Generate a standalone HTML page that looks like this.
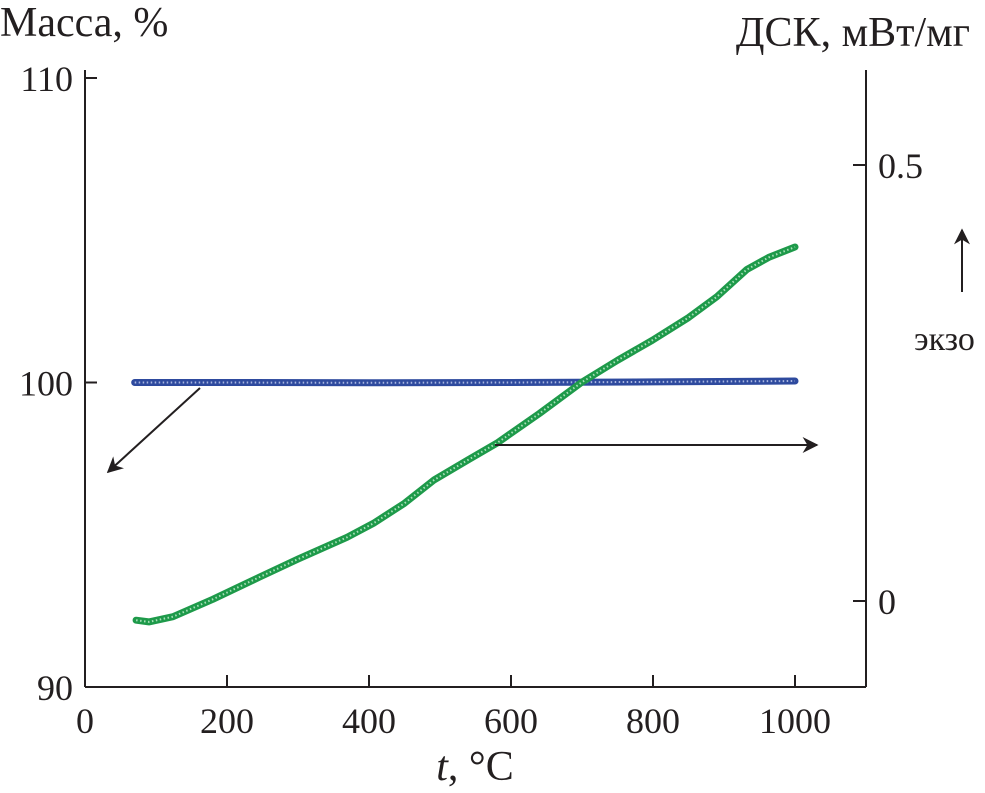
<!DOCTYPE html>
<html><head><meta charset="utf-8"><style>
html,body{margin:0;padding:0;background:#fff;}
svg{display:block;font-family:"Liberation Serif",serif;}
</style></head><body>
<svg id="chart" width="985" height="793" viewBox="0 0 985 793">
<defs>
<marker id="ah" viewBox="0 0 10 10" refX="9" refY="5" markerWidth="8" markerHeight="8" orient="auto-start-reverse"><path d="M0,0 L10,5 L0,10 L3,5 z" fill="#231f20"/></marker>
</defs>
<g id="axes" stroke="#231f20" stroke-width="2" fill="none"></g>
<g id="labels" fill="#231f20" font-size="36"></g>
<g id="series"></g>
<g>
<line x1="200" y1="388" x2="108" y2="472" stroke="#231f20" stroke-width="2" marker-end="url(#ah)"/>
<line x1="495" y1="445" x2="817" y2="445" stroke="#231f20" stroke-width="2" marker-end="url(#ah)"/>
<line x1="962" y1="292" x2="962" y2="230" stroke="#231f20" stroke-width="2" marker-end="url(#ah)"/>
<text x="914" y="350" font-size="34" fill="#231f20">экзо</text>
</g>
</svg>
<script>
const xTicks=[0,200,400,600,800,1000];
const massTicks=[90,100,110];
const dscTicks=[0,0.5];
const tempsMass=[70,200,400,600,800,1000];
const massValues=[100,100,99.99,100,100.02,100.05];
const tempsDsc=[72,90,124,180,246,300,369,406,450,492,540,580,640,700,750,799,850,890,932,963,1000];
const dscValues=[-0.022,-0.024,-0.018,0.002,0.0275,0.048,0.073,0.089,0.112,0.139,0.162,0.181,0.215,0.251,0.276,0.299,0.325,0.349,0.380,0.394,0.406];
const NS="http://www.w3.org/2000/svg";
const X=t=>85+(t/1000)*710;
const YM=v=>687-(v-90)/20*609;
const YD=v=>601-v*872;
const axes=document.getElementById('axes'),labels=document.getElementById('labels'),series=document.getElementById('series');
function el(tag,attrs,parent){const e=document.createElementNS(NS,tag);for(const k in attrs)e.setAttribute(k,attrs[k]);parent.appendChild(e);return e;}
let e;
e=el('line',{x1:85,y1:70,x2:85,y2:687},axes);


e=el('line',{x1:85,y1:687,x2:866,y2:687},axes);


e=el('line',{x1:866,y1:70,x2:866,y2:687},axes);


xTicks.forEach(t=>{
 e=el('line',{x1:X(t),y1:687,x2:X(t),y2:675},axes);
 
 
 e=el('text',{x:X(t),y:733,'text-anchor':'middle'},labels);e.textContent=t;
 
 
});
massTicks.forEach(v=>{
 e=el('line',{x1:85,y1:YM(v),x2:97,y2:YM(v)},axes);
 
 
 e=el('text',{x:73,y:YM(v)+13,'text-anchor':'end'},labels);e.textContent=v;
 
 
});
dscTicks.forEach(v=>{
 e=el('line',{x1:853,y1:YD(v),x2:866,y2:YD(v)},axes);
 
 
 e=el('text',{x:878,y:YD(v)+13},labels);e.textContent=v;
 
 
});
e=el('text',{x:0,y:36,'font-size':42},labels);e.textContent='Масса, %';


e=el('text',{x:970,y:46,'text-anchor':'end','font-size':42},labels);e.textContent='ДСК, мВт/мг';


e=el('text',{x:475,y:780,'text-anchor':'middle','font-size':42},labels);e.innerHTML='<tspan font-style="italic">t</tspan>, °C';


function drawLine(ts,vs,Y,color,light,name){
 const d=ts.map((t,i)=>(i?'L':'M')+X(t).toFixed(1)+','+Y(vs[i]).toFixed(1)).join(' ');
 const g=el('g',{},series);
 
 
 el('path',{d:d,stroke:color,'stroke-width':7,fill:'none','stroke-linecap':'round','stroke-linejoin':'round'},g);
 el('path',{d:d,stroke:light,'stroke-width':2,fill:'none','stroke-dasharray':'1.5 2.5'},g);
}
drawLine(tempsMass,massValues,YM,'#2e4a9e','#a9b6e0','mass-series');
drawLine(tempsDsc,dscValues,YD,'#1e9a4a','#a8e0b8','dsc-series');
</script>
</body></html>
